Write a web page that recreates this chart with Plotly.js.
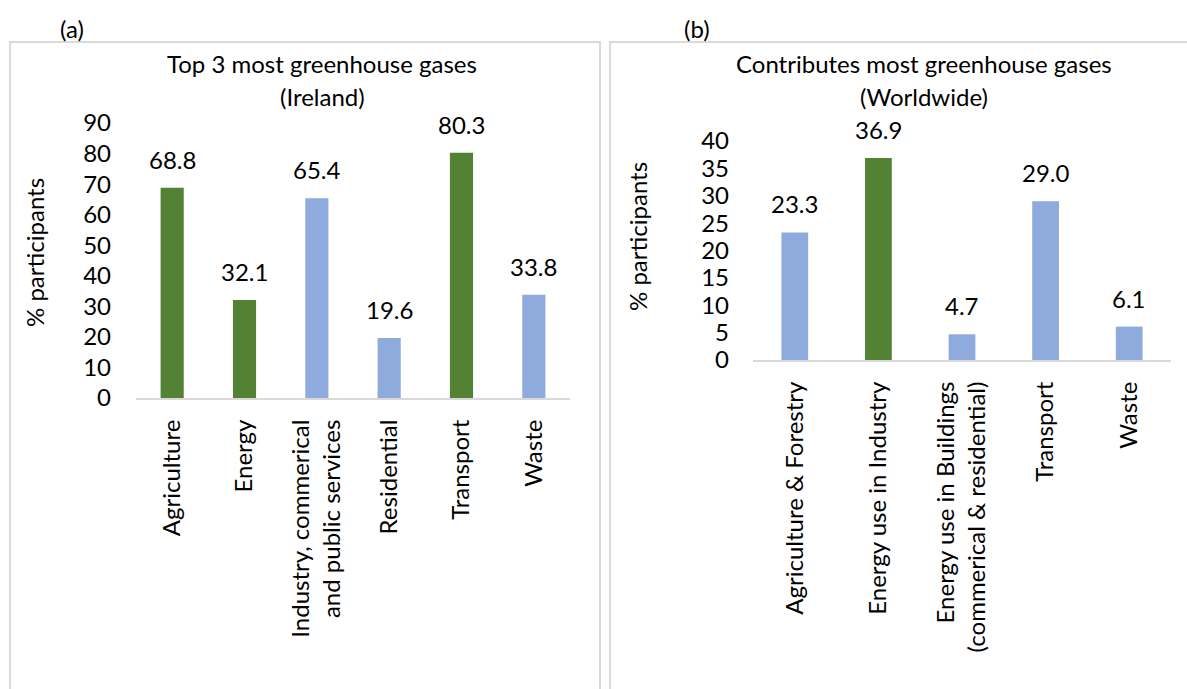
<!DOCTYPE html>
<html>
<head>
<meta charset="utf-8">
<script src="https://cdn.plot.ly/plotly-3.0.1.min.js"></script>
<style>html,body{margin:0;padding:0;background:#fff;}#chart{width:1187px;height:689px;}</style>
</head>
<body>
<div id="chart"></div>
<script>
// ---- data ----
const categoriesA = ["Agriculture", "Energy", "Industry, commerical<br>and public services", "Residential", "Transport", "Waste"];
const valuesA = [68.8, 32.1, 65.4, 19.6, 80.3, 33.8];
const highlightA = [true, true, false, false, true, false];

const categoriesB = ["Agriculture & Forestry", "Energy use in Industry", "Energy use in Buildings<br>(commerical & residential)", "Transport", "Waste"];
const valuesB = [23.3, 36.9, 4.7, 29.0, 6.1];
const highlightB = [false, true, false, false, false];

const titleA = ["Top 3 most greenhouse gases", "(Ireland)"];
const titleB = ["Contributes most greenhouse gases", "(Worldwide)"];
const yTitle = "% participants";

// ---- styling ----
const W = 1187, H = 689;
const GREEN = "#548235", BLUE = "#8FAADC", GRID = "#D9D9D9";
const FONT = "Lato, Calibri, sans-serif";
const px = x => x / W;
const py = y => 1 - y / H;

const colorsFor = h => h.map(v => v ? GREEN : BLUE);

const traces = [
  {type: "bar", x: categoriesA, y: valuesA, xaxis: "x", yaxis: "y",
   marker: {color: colorsFor(highlightA)}, hoverinfo: "none", cliponaxis: false},
  {type: "bar", x: categoriesB, y: valuesB, xaxis: "x2", yaxis: "y2",
   marker: {color: colorsFor(highlightB)}, hoverinfo: "none", cliponaxis: false}
];

const tickFont = {family: FONT, size: 24, color: "#000"};
const catFont = {family: FONT, size: 24, color: "#000"};

const annotations = [];
function valueLabels(cats, vals, xr, yr) {
  cats.forEach((c, i) => annotations.push({
    x: c, y: vals[i], xref: xr, yref: yr, text: vals[i].toFixed(1),
    showarrow: false, yanchor: "bottom", yshift: 12, font: tickFont
  }));
}
valueLabels(categoriesA, valuesA, "x", "y");
valueLabels(categoriesB, valuesB, "x2", "y2");

function paperText(text, x, y, angle) {
  annotations.push({text: text, x: px(x), y: py(y), xref: "paper", yref: "paper",
    showarrow: false, xanchor: "center", yanchor: "middle", textangle: angle || 0, font: tickFont});
}
paperText(titleA[0], 322, 63);
paperText(titleA[1], 322, 97);
paperText(titleB[0], 924, 63);
paperText(titleB[1], 924, 97);
paperText("(a)", 72, 28);
paperText("(b)", 697, 28);
paperText(yTitle, 35, 253, -90);
paperText(yTitle, 637, 237, -90);

const shapes = [
  {type: "rect", xref: "paper", yref: "paper", x0: px(10), x1: px(600), y0: py(42), y1: py(700),
   line: {color: GRID, width: 2}, fillcolor: "rgba(0,0,0,0)"},
  {type: "rect", xref: "paper", yref: "paper", x0: px(610), x1: px(1200), y0: py(42), y1: py(700),
   line: {color: GRID, width: 2}, fillcolor: "rgba(0,0,0,0)"}
];

const xCommon = {type: "category", showline: true, linecolor: GRID, linewidth: 2, ticks: "",
  tickangle: -90, tickfont: catFont, showgrid: false, zeroline: false, fixedrange: true, ticklabelstandoff: 10};
const yCommon = {showline: false, ticks: "", showgrid: false, zeroline: false, tickfont: tickFont,
  fixedrange: true, ticklabelstandoff: 6};

const layout = {
  width: W, height: H,
  margin: {l: 0, r: 0, t: 0, b: 0},
  paper_bgcolor: "#fff", plot_bgcolor: "#fff",
  showlegend: false,
  bargap: 0.68,
  font: {family: FONT, color: "#000"},
  xaxis: Object.assign({}, xCommon, {domain: [px(136), px(570)], anchor: "y"}),
  yaxis: Object.assign({}, yCommon, {domain: [py(398), py(123)], range: [0, 90], dtick: 10, anchor: "x", ticklabelstandoff: 24}),
  xaxis2: Object.assign({}, xCommon, {domain: [px(753), px(1171)], anchor: "y2"}),
  yaxis2: Object.assign({}, yCommon, {domain: [py(360), py(141)], range: [0, 40], dtick: 5, anchor: "x2", ticklabelstandoff: 23}),
  annotations: annotations,
  shapes: shapes
};

Plotly.newPlot("chart", traces, layout, {displayModeBar: false, staticPlot: true});
</script>
</body>
</html>
